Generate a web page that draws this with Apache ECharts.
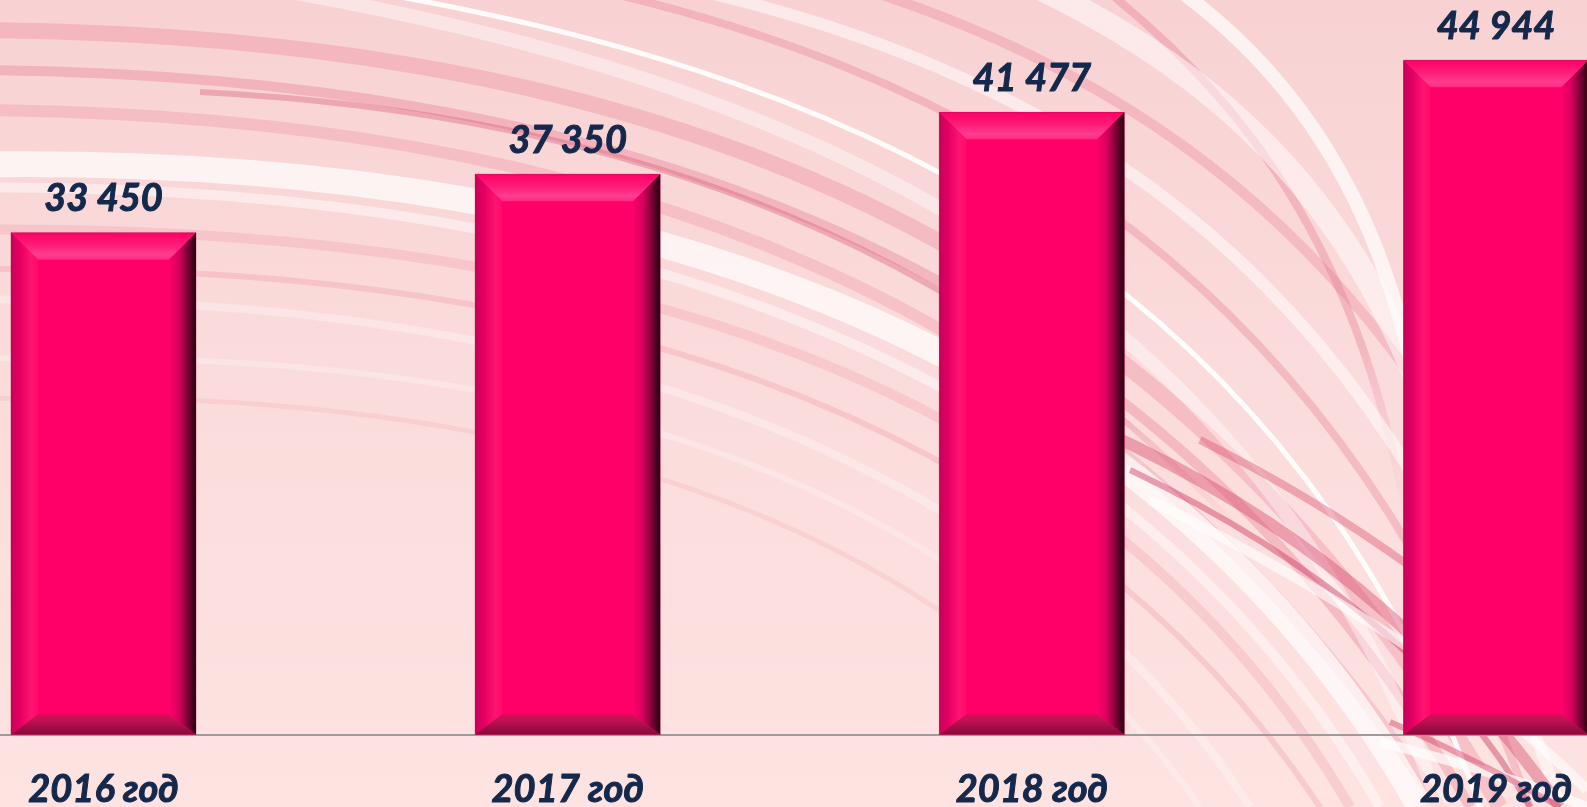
<!DOCTYPE html>
<html>
<head>
<meta charset="utf-8">
<script src="https://cdn.jsdelivr.net/npm/echarts@6/dist/echarts.min.js"></script>
<style>
html,body{margin:0;padding:0;width:1587px;height:807px;overflow:hidden;background:#fbdcdc;}
#chart{width:1587px;height:807px;}
</style>
</head>
<body>
<div id="chart"></div>
<script>
// ---- data ----
const categories = ['2016 год', '2017 год', '2018 год', '2019 год'];
const values = [33450, 37350, 41477, 44944];
const yMin = 0;
const yMax = 48000;

// ---- decorative background swooshes (styling only) ----
// [x1,y1,cpx1,cpy1,cpx2,cpy2,x2,y2,width,color,fadeEnd]
const swooshes = [
  [-50,30, 600,30, 1150,200, 1500,807, 16,'rgba(232,110,135,0.28)',0],
  [-50,70, 600,70, 1150,250, 1470,807, 10,'rgba(225,95,125,0.28)',0],
  [-50,110, 600,110, 1100,290, 1440,807, 12,'rgba(235,125,145,0.26)',0],
  [200,92, 600,112, 1000,232, 1300,600, 6,'rgba(215,80,110,0.35)',1],
  [-50,230, 600,220, 1100,380, 1350,807, 10,'rgba(235,130,150,0.22)',0],
  [-50,270, 550,255, 1050,400, 1320,807, 6,'rgba(230,120,140,0.22)',0],
  [-50,400, 450,380, 900,480, 1150,807, 5,'rgba(235,140,155,0.16)',1],
  [500,-30, 1000,60, 1350,300, 1530,807, 8,'rgba(225,100,130,0.28)',0],
  [800,-30, 1200,80, 1420,300, 1587,700, 10,'rgba(230,110,135,0.28)',0],
  [1080,-30, 1280,120, 1380,300, 1420,600, 8,'rgba(225,100,130,0.3)',1],
  [-50,165, 600,150, 1150,330, 1420,807, 26,'rgba(255,255,255,0.7)',0],
  [-50,188, 600,178, 1120,360, 1380,807, 10,'rgba(255,255,255,0.45)',0],
  [360,-10, 900,80, 1300,300, 1480,807, 5,'rgba(255,255,255,0.9)',0],
  [150,-30, 800,60, 1250,280, 1440,807, 14,'rgba(255,255,255,0.4)',0],
  [600,-30, 1100,60, 1400,300, 1560,807, 12,'rgba(255,255,255,0.5)',0],
  [1000,-30, 1300,100, 1420,300, 1480,600, 24,'rgba(255,255,255,0.5)',1],
  [1150,-30, 1350,100, 1420,300, 1440,560, 14,'rgba(255,255,255,0.7)',1],
  [-50,300, 500,290, 1000,420, 1250,807, 8,'rgba(255,255,255,0.3)',0],
  [-50,360, 500,340, 950,450, 1200,807, 6,'rgba(255,255,255,0.25)',0],
  [1100,430, 1300,520, 1450,650, 1560,807, 12,'rgba(215,70,105,0.42)',0],
  [1130,470, 1320,560, 1460,680, 1530,807, 6,'rgba(205,55,95,0.45)',0],
  [1150,500, 1350,600, 1500,700, 1587,790, 10,'rgba(255,255,255,0.6)',0],
  [1200,440, 1400,540, 1520,650, 1587,720, 8,'rgba(220,80,110,0.42)',0],
  [1380,742, 1450,760, 1520,780, 1587,807, 10,'rgba(255,255,255,0.7)',0],
  [1390,722, 1460,752, 1530,790, 1560,807, 6,'rgba(210,60,100,0.45)',0]
];

function lin(x1, y1, x2, y2, stops) {
  return new echarts.graphic.LinearGradient(x1, y1, x2, y2,
    stops.map(s => ({ offset: s[0], color: s[1] })));
}

const graphicEls = swooshes.map(s => ({
  type: 'bezierCurve',
  silent: true,
  z: -10,
  shape: { x1: s[0], y1: s[1], cpx1: s[2], cpy1: s[3], cpx2: s[4], cpy2: s[5], x2: s[6], y2: s[7] },
  style: {
    stroke: s[10] ? lin(0, 0, 0, 1, [[0, s[9]], [0.6, s[9]], [1, 'rgba(255,255,255,0)']]) : s[9],
    lineWidth: s[8], fill: null, lineCap: 'butt'
  }
}));

const barW = 185;
const labelFont = {
  fontFamily: 'Lato',
  fontStyle: 'italic',
  fontWeight: 'bold',
  fontSize: 38,
  lineHeight: 38,
  color: '#13284a',
  textBorderColor: '#13284a',
  textBorderWidth: 1
};

function fmt(v) {
  return String(v).replace(/\B(?=(\d{3})+(?!\d))/g, ' ');
}

function renderBevel(params, api) {
  const topPt = api.coord([api.value(0), api.value(1)]);
  const basePt = api.coord([api.value(0), 0]);
  const l = topPt[0] - barW / 2, r = topPt[0] + barW / 2;
  const t = topPt[1], b = basePt[1];
  const tb = 27, bb = 20, sb = 27;
  return {
    type: 'group',
    children: [
      { type: 'polygon', shape: { points: [[l, t], [r, t], [r - sb, t + tb], [l + sb, t + tb]] },
        style: { fill: lin(0, 0, 0, 1, [[0, '#ff0066'], [0.45, '#ff1c78'], [0.8, '#ff3d8e'], [1, '#ff2a82']]) } },
      { type: 'polygon', shape: { points: [[l, t], [l + sb, t + tb], [l + sb, b - bb], [l, b]] },
        style: { fill: lin(0, 0, 1, 0, [[0, '#c8005a'], [0.35, '#e60064'], [0.75, '#ff1470'], [1, '#ff0a6a']]) } },
      { type: 'polygon', shape: { points: [[r, t], [r, b], [r - sb, b - bb], [r - sb, t + tb]] },
        style: { fill: lin(0, 0, 1, 0, [[0, '#ff0068'], [0.35, '#d80060'], [0.7, '#7a0035'], [1, '#24000e']]) } },
      { type: 'polygon', shape: { points: [[l, b], [l + sb, b - bb], [r - sb, b - bb], [r, b]] },
        style: { fill: lin(0, 0, 0, 1, [[0, '#d2105a'], [0.3, '#c0124f'], [0.7, '#9e0c45'], [1, '#880a3c']]) } },
      { type: 'rect', shape: { x: l, y: t, width: barW, height: b - t },
        style: { fill: null, stroke: 'rgba(160,0,60,0.35)', lineWidth: 1 } }
    ]
  };
}

const chart = echarts.init(document.getElementById('chart'), null, { renderer: 'canvas' });
chart.setOption({
  animation: false,
  backgroundColor: lin(0, 0, 0, 1, [[0, '#f8d2d3'], [0.5, '#fbdcdc'], [1, '#fde3e1']]),
  graphic: { elements: graphicEls },
  grid: { left: -128.6, right: -141.1, top: 14.5, bottom: 72.5, outerBoundsMode: 'none', containLabel: false },
  xAxis: {
    type: 'category',
    data: categories,
    axisLine: { show: true, lineStyle: { color: '#a09a9a', width: 2 } },
    axisTick: { show: false },
    axisLabel: Object.assign({ margin: 36, interval: 0 }, labelFont)
  },
  yAxis: {
    type: 'value', min: yMin, max: yMax, show: false,
    splitLine: { show: false }
  },
  series: [
    {
      type: 'bar',
      data: values,
      barWidth: barW,
      z: 2,
      itemStyle: { color: '#ff0068' },
      label: Object.assign({
        show: true, position: 'top', distance: 15,
        formatter: p => fmt(p.value)
      }, labelFont)
    },
    {
      type: 'custom',
      z: 3,
      silent: true,
      encode: { x: 0, y: 1 },
      data: values.map((v, i) => [i, v]),
      renderItem: renderBevel
    }
  ]
});
</script>
</body>
</html>
